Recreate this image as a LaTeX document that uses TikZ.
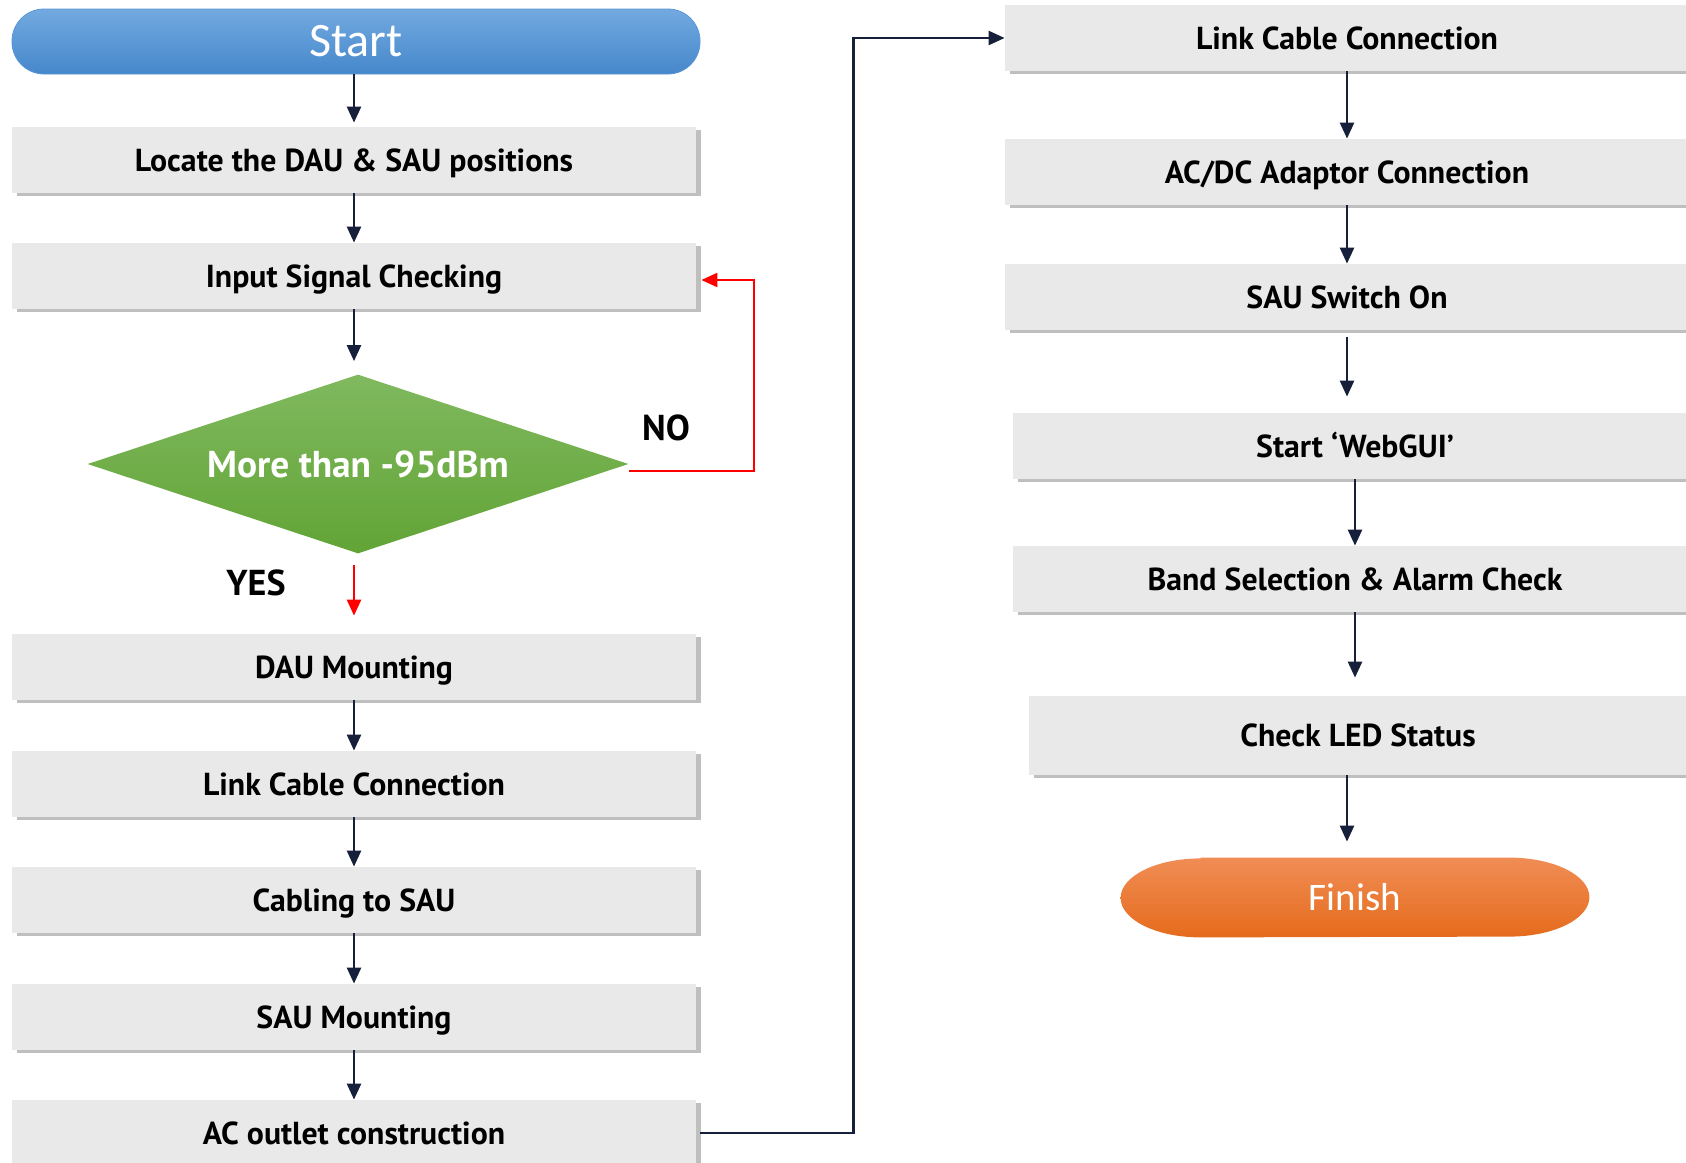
\documentclass[tikz,border=0pt]{standalone}
\usepackage{fontspec}
\setmainfont{PT Sans}
\newfontfamily\calfont{Carlito}
\usetikzlibrary{arrows.meta,shapes.geometric,shadows,backgrounds}
\definecolor{boxgray}{HTML}{E9E9E9}
\definecolor{shadgray}{HTML}{BFBFBF}
\definecolor{navy}{HTML}{17203A}
\definecolor{startTop}{HTML}{72AAE0}
\definecolor{startBot}{HTML}{4687CB}
\definecolor{startLine}{HTML}{5B97D6}
\definecolor{diaTop}{HTML}{80B95F}
\definecolor{diaBot}{HTML}{62A436}
\definecolor{finTop}{HTML}{F08D55}
\definecolor{finBot}{HTML}{E56B1C}

\begin{document}
\begin{tikzpicture}[x=0.5pt, y=-0.5pt,
    procbox/.style={rectangle, fill=boxgray, inner sep=0pt,
      minimum width=342pt, minimum height=33pt,
      text height=11.1pt, text depth=0pt,
      font=\bfseries\fontsize{15.9}{19}\selectfont,
      drop shadow={shadow xshift=2.5pt, shadow yshift=-1.5pt, fill=shadgray, opacity=1}},
    term/.style={rectangle, inner sep=0pt, text=white},
    decide/.style={diamond, aspect=3, inner sep=0pt,
      minimum width=270.5pt, minimum height=89.5pt,
      top color=diaTop, bottom color=diaBot, text=white,
      text height=13.1pt, text depth=0pt,
      font=\bfseries\fontsize{18.7}{22}\selectfont},
    lbl/.style={font=\bfseries\fontsize{18}{22}\selectfont},
    arr/.style={navy, line width=1.3pt, -{Triangle[length=8pt, width=7pt]}},
    redarr/.style={red, line width=1.3pt, -{Triangle[length=8pt, width=7pt]}}]

    \useasboundingbox (0,0) rectangle (1686,1162);
    \clip (0,0) rectangle (1686,1162);

    \node[term, rounded corners=16pt, top color=startTop, bottom color=startBot, draw=startLine,
      minimum width=344pt, minimum height=32.5pt, font=\calfont\fontsize{24}{28}\selectfont]
      (start) at (356,41.5) {Start};
    \node[procbox] (loc) at (354,160) {Locate the DAU \& SAU positions};
    \node[procbox] (chk) at (354,276) {Input Signal Checking};
    \node[decide] (dia) at (358,464) {More than -95dBm};
    \node[lbl] (no) at (666,428) {NO};
    \node[lbl] (yes) at (256,583) {YES};
    \node[procbox] (dau) at (354,667) {DAU Mounting};
    \node[procbox] (lnk) at (354,784) {Link Cable Connection};
    \node[procbox] (cab) at (354,900) {Cabling to SAU};
    \node[procbox] (smt) at (354,1017) {SAU Mounting};
    \node[procbox] (aco) at (354,1133) {AC outlet construction};

    \node[procbox] (rlnk) at (1347,38) {Link Cable Connection};
    \node[procbox] (acdc) at (1347,172) {AC/DC Adaptor Connection};
    \node[procbox] (ssw) at (1347,297) {SAU Switch On};
    \node[procbox] (web) at (1355,446) {Start ‘WebGUI’};
    \node[procbox] (band) at (1355,579) {Band Selection \& Alarm Check};
    \fill[shadgray] (1136,775) rectangle (1595,778);
    \node[procbox, drop shadow={opacity=0}, minimum width=329pt, minimum height=39.5pt] (led) at (1358,735.5) {Check LED Status};
    \node[term, minimum width=234pt, minimum height=39.5pt, font=\calfont\fontsize{19.5}{23}\selectfont]
      (fin) at (1355,897.5) {Finish};
    \begin{scope}[on background layer]
      \shade[top color=finTop, bottom color=finBot]
        ([xshift=40pt]fin.north west) -- ([xshift=-40pt]fin.north east)
        arc[start angle=90, end angle=-90, x radius=40pt, y radius=19.75pt]
        -- ([xshift=40pt]fin.south west)
        arc[start angle=270, end angle=90, x radius=40pt, y radius=19.75pt] -- cycle;
    \end{scope}

    \draw[arr, shorten >=2pt] (loc.north |- start.south) -- (loc.north);
    \draw[arr] (loc) -- (chk);
    \draw[arr, shorten >=6.5pt] (chk.south) -- (chk.south |- dia.north);
    \draw[redarr, shorten <=5.5pt, shorten >=9pt] (dau.north |- dia.south) -- (dau.north);
    \draw[redarr] ([yshift=-3.5pt]dia.east) -- ++(125,0) |- ([xshift=2.5pt, yshift=-2pt]chk.east);
    \draw[arr] (dau) -- (lnk);
    \draw[arr] (lnk) -- (cab);
    \draw[arr] (cab) -- (smt);
    \draw[arr] (smt) -- (aco);
    \draw[arr] ([xshift=2pt]aco.east) -- ++(153,0) |- (rlnk.west);

    \draw[arr] (rlnk) -- (acdc);
    \draw[arr] (acdc) -- (ssw);
    \draw[arr, shorten <=3.5pt, shorten >=8pt] (ssw.south) -- (ssw.south |- web.north);
    \draw[arr] (web) -- (band);
    \draw[arr, shorten >=9pt] (band.south) -- (band.south |- led.north);
    \draw[arr, shorten >=8pt] ([xshift=-5.5pt]led.south) -- ([xshift=-5.5pt]led.south |- fin.north);

\end{tikzpicture}
\end{document}
